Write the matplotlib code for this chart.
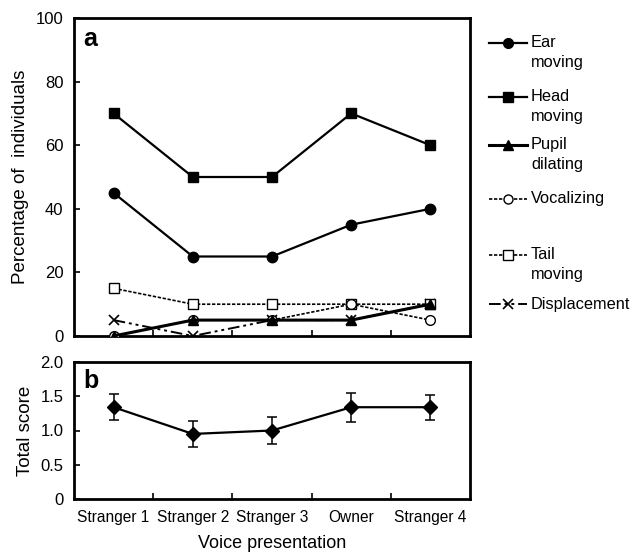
import matplotlib
matplotlib.use("Agg")
import matplotlib.pyplot as plt
from matplotlib.lines import Line2D
import numpy as np

plt.rcParams['font.family'] = ['Liberation Sans', 'DejaVu Sans']

categories = ["Stranger 1", "Stranger 2", "Stranger 3", "Owner", "Stranger 4"]
ear_moving = [45, 25, 25, 35, 40]
head_moving = [70, 50, 50, 70, 60]
pupil_dilating = [0, 5, 5, 5, 10]
vocalizing = [0, 5, 5, 10, 5]
tail_moving = [15, 10, 10, 10, 10]
displacement = [5, 0, 5, 5, 10]
total_score = [1.34, 0.95, 1.00, 1.34, 1.34]
total_err = [0.19, 0.19, 0.20, 0.21, 0.18]

series = [
    ("Ear\nmoving", ear_moving, dict(marker='o', ls='-', mfc='black', ms=7.5, lw=1.6)),
    ("Head\nmoving", head_moving, dict(marker='s', ls='-', mfc='black', ms=7, lw=1.6)),
    ("Pupil\ndilating", pupil_dilating, dict(marker='^', ls='-', mfc='black', ms=7.5, lw=2.2)),
    ("Vocalizing", vocalizing, dict(marker='o', ls=(0, (2, 1)), mfc='white', ms=7, lw=1.2)),
    ("Tail\nmoving", tail_moving, dict(marker='s', ls=(0, (2, 1)), mfc='white', ms=7, lw=1.2)),
    ("Displacement", displacement, dict(marker='x', ls=(0, (6, 2, 1.5, 2, 1.5, 2)), mfc='black', ms=7, lw=1.4, mew=1.2)),
]

fig = plt.figure(figsize=(6.30, 5.53), dpi=100)
ax_a = fig.add_axes([74/630, 1-336/553, 396/630, 318/553])
ax_b = fig.add_axes([74/630, 1-499/553, 396/630, 137/553])

x = np.arange(len(categories))

# draw in reverse order so filled markers are on top
for label, vals, st in reversed(series):
    ax_a.plot(x, vals, color='black', mec='black', zorder=3, **st)

for ax in (ax_a, ax_b):
    ax.set_xlim(-0.5, len(categories) - 0.5)
    ax.set_xticks(np.arange(len(categories) - 1) + 0.5)
    ax.set_xticks(x, minor=True)
    ax.tick_params(axis='x', which='major', direction='in', length=4, width=1.2, labelbottom=False)
    ax.tick_params(axis='x', which='minor', length=0, labelbottom=False)
    ax.tick_params(axis='y', direction='in', length=4, width=1.2, labelsize=12, pad=7.5)
    for s in ax.spines.values():
        s.set_linewidth(2)

ax_a.set_ylim(0, 100)
ax_a.set_yticks([0, 20, 40, 60, 80, 100])
ax_a.set_ylabel("Percentage of  individuals", fontsize=13.5, labelpad=5)
ax_a.text(9/396, 1 - 9/318, "a", transform=ax_a.transAxes, fontsize=18, fontweight='bold', va='top', ha='left')

ax_b.errorbar(x, total_score, yerr=total_err, color='black', marker='D', ms=7,
              lw=1.6, capsize=3.5, elinewidth=1.1, capthick=1.1, zorder=3)
ax_b.set_ylim(0, 2.0)
ax_b.set_yticks([0, 0.5, 1.0, 1.5, 2.0])
ax_b.set_yticklabels(["0", "0.5", "1.0", "1.5", "2.0"])
ax_b.set_ylabel("Total score", fontsize=13.5, labelpad=5)
ax_b.text(9/396, 1 - 7/137, "b", transform=ax_b.transAxes, fontsize=18, fontweight='bold', va='top', ha='left')
ax_b.set_xticklabels(categories, minor=True)
ax_b.tick_params(axis='x', which='minor', labelbottom=True, labelsize=11.2, pad=8)
ax_b.set_xlabel("Voice presentation", fontsize=13, labelpad=7)

# manual legend outside right
legend_y = [43, 97, 145, 199, 255, 304]
for (label, vals, st), yp in zip(series, legend_y):
    yf = 1 - yp/553
    lst = dict(st)
    lst['ms'] = lst['ms'] - 0.5
    fig.add_artist(Line2D([489/630, 508/630, 527/630], [yf, yf, yf], color='black', mec='black',
                          markevery=[1], transform=fig.transFigure, **lst))
    multi = '\n' in label
    fig.text(531/630, yf + (8/553 if multi else 0), label, ha='left',
             va='top' if multi else 'center', fontsize=11.8, linespacing=1.45)

fig.savefig("out.png", dpi=100)
